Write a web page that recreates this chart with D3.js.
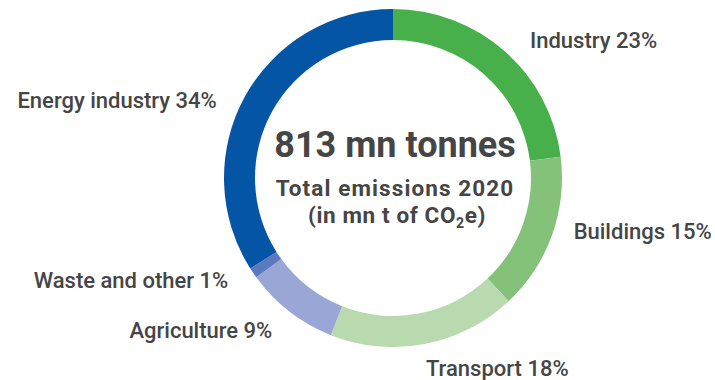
<!DOCTYPE html>
<html>
<head>
<meta charset="utf-8">
<script src="https://cdn.jsdelivr.net/npm/d3@7"></script>
<style>
  html, body { margin: 0; padding: 0; background: #fff; }
  svg { display: block; font-family: Roboto, "Noto Sans", sans-serif; }
</style>
</head>
<body>
<svg id="chart" width="715" height="380"></svg>
<script>
// Emission shares by sector, clockwise from 12 o'clock
const sectors = ["Industry", "Buildings", "Transport", "Agriculture", "Waste and other", "Energy industry"];
const shares = [23, 15, 18, 9, 1, 34];
const colors = ["#47b04b", "#84c27a", "#b9d9af", "#99a6d6", "#5a79bf", "#0555a6"];
const totalLabel = "813 mn tonnes";
const subtitle = "Total emissions 2020";

const svg = d3.select("#chart");
const cx = 393, cy = 178;
const outerR = 169, innerR = 138;

const data = sectors.map((name, i) => ({ name, value: shares[i], color: colors[i] }));

const pie = d3.pie().value(d => d.value).sort(null);
const arc = d3.arc().innerRadius(innerR).outerRadius(outerR);
const labelArc = d3.arc().innerRadius(192).outerRadius(192);

const g = svg.append("g").attr("transform", `translate(${cx},${cy})`);
const arcs = pie(data);

g.selectAll("path.slice")
  .data(arcs)
  .join("path")
  .attr("class", "slice")
  .attr("d", arc)
  .attr("fill", d => d.data.color);

// Label nudges so the texts clear the ring
const nudge = {
  "Industry": [10, 14],
  "Buildings": [0, -4],
  "Transport": [-3, 9],
  "Agriculture": [-3, 8],
  "Waste and other": [-6, 2],
  "Energy industry": [-8, 22]
};

g.selectAll("text.label")
  .data(arcs)
  .join("text")
  .attr("class", "label")
  .each(function (d) {
    const [x, y] = labelArc.centroid(d);
    const mid = (d.startAngle + d.endAngle) / 2;
    const [nx, ny] = nudge[d.data.name];
    d3.select(this)
      .attr("x", x + nx)
      .attr("y", y + ny)
      .attr("text-anchor", mid < Math.PI ? "start" : "end");
  })
  .attr("font-size", 22)
  .attr("font-weight", 500)
  .attr("fill", "#454545")
  .text(d => `${d.data.name} ${d.data.value}%`);

// Centre caption
const c = svg.append("g").attr("transform", `translate(${cx},0)`)
  .attr("text-anchor", "middle").attr("fill", "#454545").attr("font-weight", 700);

c.append("text").attr("x", 2).attr("y", 157).attr("font-size", 36).text(totalLabel);

c.append("text").attr("x", 2).attr("y", 196).attr("font-size", 22.5)
  .attr("letter-spacing", 1.1).text(subtitle);

const unit = c.append("text").attr("x", 4).attr("y", 223).attr("font-size", 22.5)
  .attr("letter-spacing", 0.6);
unit.append("tspan").text("(in mn t of CO");
unit.append("tspan").attr("font-size", 14).attr("dy", 5).text("2");
unit.append("tspan").attr("dy", -5).text("e)");
</script>
</body>
</html>
